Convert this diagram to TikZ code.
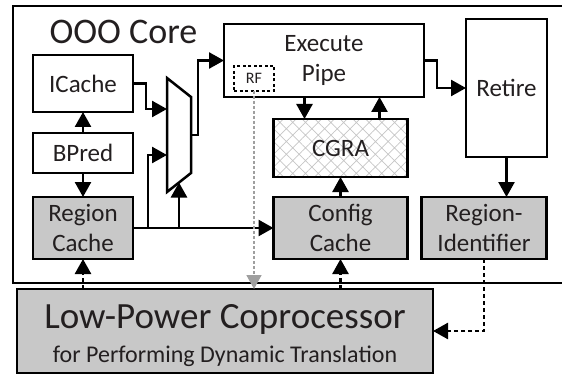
\documentclass[tikz,border=0pt]{standalone}
\usepackage{fontspec}
\setmainfont{Carlito}
\usepackage{tikz}
\usetikzlibrary{arrows.meta, positioning, patterns.meta}

\definecolor{blockgray}{RGB}{200,200,200}
\definecolor{inkblack}{RGB}{35,31,32}

\begin{document}
\begin{tikzpicture}[x=1pt, y=-1pt, line width=2.5pt,
		blk/.style={rectangle, draw, inner sep=0pt, outer sep=0pt, align=center,
			text=inkblack, font=\fontsize{25}{30}\selectfont},
		gblk/.style={blk, fill=blockgray},
		arr/.style={-{Triangle[length=15pt, width=16pt]}},
		darr/.style={arr, dash pattern=on 4pt off 3pt}
	]
	\useasboundingbox (0,0) rectangle (562,377);

	% core frame, open on the right
	\draw (563,6) -- (13,6) -- (13,283) -- (563,283);
	\node[anchor=base west, text=inkblack, font=\fontsize{36}{40}\selectfont] (core) at (45,44) {OOO Core};

	% front end
	\node[blk, minimum width=100, minimum height=57] (icache) at (83,83.5) {ICache};
	\node[blk, minimum width=100, minimum height=40, below = 21pt of icache] (bpred) {BPred};
	\node[gblk, minimum width=100, minimum height=62, below = 24pt of bpred] (rcache) {Region\\Cache};

	% mux
	\coordinate (mux1) at (167,78);
	\coordinate (mux2) at (191,97);
	\coordinate (mux3) at (191,173);
	\coordinate (mux4) at (167,192);
	\coordinate (in1) at (167,109);
	\coordinate (in2) at (167,155);
	\coordinate (sel) at (179,182.5);
	\coordinate (out) at (191,135);
	\draw[fill=white] (mux1) -- (mux2) -- (mux3) -- (mux4) -- cycle;

	% back end
	\node[blk, minimum width=200, minimum height=73] (exe) at (324,60.5) {Execute\\Pipe};
	\node[rectangle, draw, line width=1.4pt, dash pattern=on 3pt off 2.5pt, minimum width=40, minimum height=25,
		inner sep=0pt, outer sep=0pt, text=inkblack, font=\fontsize{16}{18}\selectfont] (rf) at (254,78.5) {RF};
	\node[blk, minimum width=134, minimum height=58, pattern={Hatch[angle=45, distance=9pt, line width=0.7pt]},
		pattern color=gray!45] (cgra) at (340.5,148) {CGRA};
	\node[gblk, minimum width=134, minimum height=62, below = 20pt of cgra] (cfg) {Config\\Cache};
	\node[gblk, minimum width=125, minimum height=62, right = 14pt of cfg] (rid) {Region-\\Identifier};
	\node[blk, minimum width=81, minimum height=138] (retire) at (506.5,88) {Retire};
	\node[gblk, minimum width=416, minimum height=84] (cop) at (225,331) {};
	\node[anchor=base, text=inkblack, font=\fontsize{37}{40}\selectfont] (coptitle) at (225,328) {Low-Power Coprocessor};
	\node[anchor=base, text=inkblack, font=\fontsize{24}{28}\selectfont] (copsub) at (225,362) {for Performing Dynamic Translation};

	% fetch path
	\draw[arr] (bpred) -- (icache);
	\draw[arr] (bpred) -- (rcache);
	\draw[arr] (icache.east) -- ++(13,0) |- (in1);
	\coordinate (split) at (148,228);
	\draw[arr] (rcache.east) -- (cfg.west);
	\draw[arr] (split) |- (in2);
	\draw[arr] (sel |- rcache.east) -- (sel);
	\draw[arr] (out) -- ++(7,0) |- (exe.west);

	% execute, CGRA and retire
	\draw[arr] ([xshift=-36pt]cgra.north |- exe.south) -- ([xshift=-36pt]cgra.north);
	\draw[arr] ([xshift=39pt]cgra.north) -- ([xshift=39pt]cgra.north |- exe.south);
	\draw[arr] (cfg) -- (cgra);
	\draw[arr] (exe.east) -- ++(13,0) |- (retire.west);
	\draw[arr] (retire.south) -- (retire.south |- rid.north);

	% coprocessor links
	\draw[darr] (rcache.south |- cop.north) -- (rcache.south);
	\draw[darr] (cfg.south |- cop.north) -- (cfg.south);
	\draw[darr] (rid.south) |- (cop.east);
	\draw[gray!75, line width=1.7pt, dash pattern=on 3pt off 2pt, -{Triangle[length=14pt, width=15pt]}]
		(rf.south) -- (rf.south |- cop.north);
\end{tikzpicture}
\end{document}
